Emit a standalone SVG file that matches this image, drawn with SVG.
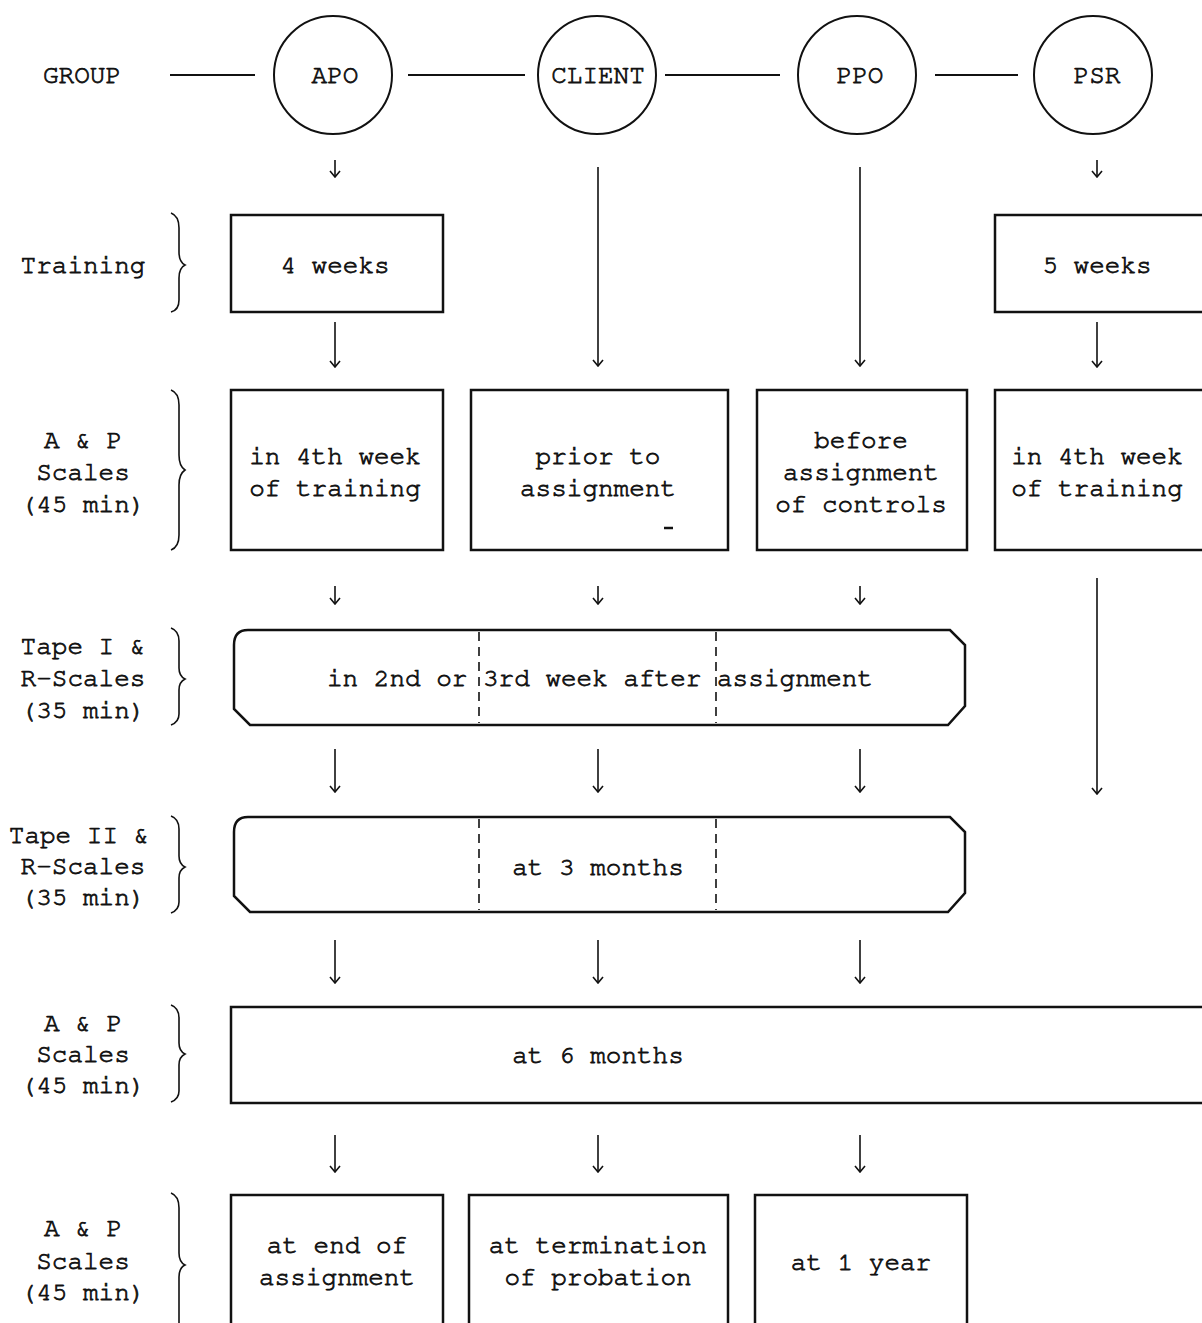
<svg xmlns="http://www.w3.org/2000/svg" width="1202" height="1323" viewBox="0 0 1202 1323">
<style>
text{font-family:"Nimbus Mono PS","FreeMono","Courier","Liberation Mono","Courier New",monospace;font-size:26px;fill:#111;stroke:#111;stroke-width:0.8;text-anchor:middle;dominant-baseline:central}
.box{fill:none;stroke:#111;stroke-width:2.5}
.circ{fill:none;stroke:#111;stroke-width:2}
.ln{fill:none;stroke:#111;stroke-width:2.2}
.arr{fill:none;stroke:#111;stroke-width:1.6;marker-end:url(#ah)}
.br{fill:none;stroke:#111;stroke-width:1.6}
.dash{fill:none;stroke:#111;stroke-width:1.6;stroke-dasharray:9 6}
</style>
<defs>
<marker id="ah" viewBox="0 0 12 12" refX="11" refY="6" markerWidth="12" markerHeight="12" markerUnits="userSpaceOnUse" orient="auto">
<path d="M5 1 L11 6 L5 11" fill="none" stroke="#111" stroke-width="1.6"/>
</marker>
</defs>
<rect width="1202" height="1323" fill="#fff"/>

<g id="labels">
<text x="82" y="75">GROUP</text>
<text x="83" y="265">Training</text>
<text x="83" y="440">A &amp; P</text>
<text x="83" y="472">Scales</text>
<text x="83" y="504">(45 min)</text>
<text x="83" y="646">Tape I &amp;</text>
<text x="83" y="678">R-Scales</text>
<text x="83" y="710">(35 min)</text>
<text x="79" y="835">Tape II &amp;</text>
<text x="83" y="866">R-Scales</text>
<text x="83" y="897">(35 min)</text>
<text x="83" y="1023">A &amp; P</text>
<text x="83" y="1054">Scales</text>
<text x="83" y="1085">(45 min)</text>
<text x="83" y="1228">A &amp; P</text>
<text x="83" y="1261">Scales</text>
<text x="83" y="1292">(45 min)</text>
</g>

<g id="braces">
<path class="br" d="M171 213 Q179 216 179 228 V252 Q179 262 185 265 Q179 268 179 278 V300 Q179 310 171 312"/>
<path class="br" d="M171 390 Q179 393 179 405 V455 Q179 466 185 470 Q179 474 179 485 V535 Q179 547 171 550"/>
<path class="br" d="M171 628 Q179 631 179 641 V668 Q179 676 185 679 Q179 682 179 690 V714 Q179 722 171 725"/>
<path class="br" d="M171 816 Q179 819 179 829 V856 Q179 864 185 867 Q179 870 179 878 V902 Q179 910 171 913"/>
<path class="br" d="M171 1005 Q179 1008 179 1018 V1043 Q179 1051 185 1054 Q179 1057 179 1065 V1091 Q179 1099 171 1102"/>
<path class="br" d="M171 1193 Q179 1196 179 1208 V1253 Q179 1262 185 1265 Q179 1268 179 1277 V1323"/>
</g>

<g id="connectors">
<line class="ln" x1="170" y1="75" x2="255" y2="75"/>
<line class="ln" x1="408" y1="75" x2="525" y2="75"/>
<line class="ln" x1="665" y1="75" x2="780" y2="75"/>
<line class="ln" x1="935" y1="75" x2="1018" y2="75"/>
<line class="arr" x1="335" y1="160" x2="335" y2="177"/>
<line class="arr" x1="1097" y1="160" x2="1097" y2="177"/>
<line class="arr" x1="598" y1="167" x2="598" y2="366"/>
<line class="arr" x1="860" y1="167" x2="860" y2="366"/>
<line class="arr" x1="335" y1="322" x2="335" y2="367"/>
<line class="arr" x1="1097" y1="322" x2="1097" y2="367"/>
<line class="arr" x1="335" y1="586" x2="335" y2="604"/>
<line class="arr" x1="598" y1="586" x2="598" y2="604"/>
<line class="arr" x1="860" y1="586" x2="860" y2="604"/>
<line class="arr" x1="1097" y1="578" x2="1097" y2="794"/>
<line class="arr" x1="335" y1="749" x2="335" y2="792"/>
<line class="arr" x1="598" y1="749" x2="598" y2="792"/>
<line class="arr" x1="860" y1="749" x2="860" y2="792"/>
<line class="arr" x1="335" y1="940" x2="335" y2="983"/>
<line class="arr" x1="598" y1="940" x2="598" y2="983"/>
<line class="arr" x1="860" y1="940" x2="860" y2="983"/>
<line class="arr" x1="335" y1="1135" x2="335" y2="1172"/>
<line class="arr" x1="598" y1="1135" x2="598" y2="1172"/>
<line class="arr" x1="860" y1="1135" x2="860" y2="1172"/>
</g>

<g id="apo"><circle class="circ" cx="333" cy="75" r="59"/><text x="335" y="75">APO</text></g>
<g id="client"><circle class="circ" cx="597" cy="75" r="59"/><text x="598" y="75">CLIENT</text></g>
<g id="ppo"><circle class="circ" cx="857" cy="75" r="59"/><text x="860" y="75">PPO</text></g>
<g id="psr"><circle class="circ" cx="1093" cy="75" r="59"/><text x="1097" y="75">PSR</text></g>

<g id="apo-training"><rect class="box" x="231" y="215" width="212" height="97"/><text x="335" y="265">4 weeks</text></g>
<g id="psr-training"><rect class="box" x="995" y="215" width="212" height="97"/><text x="1097" y="265">5 weeks</text></g>

<g id="apo-ap1"><rect class="box" x="231" y="390" width="212" height="160"/><text x="335" y="456">in 4th week</text><text x="335" y="488">of training</text></g>
<g id="client-ap1"><rect class="box" x="471" y="390" width="257" height="160"/><text x="598" y="456">prior to</text><text x="598" y="488">assignment</text><line x1="664" y1="528" x2="673" y2="528" stroke="#111" stroke-width="2.5"/></g>
<g id="ppo-ap1"><rect class="box" x="757" y="390" width="210" height="160"/><text x="861" y="440">before</text><text x="861" y="472">assignment</text><text x="861" y="504">of controls</text></g>
<g id="psr-ap1"><rect class="box" x="995" y="390" width="212" height="160"/><text x="1097" y="456">in 4th week</text><text x="1097" y="488">of training</text></g>

<g id="tape1">
<path class="box" d="M248 630 H950 L965 645 V706 L948 725 H250 L234 709 V645 Q234 630 248 630 Z"/>
<line class="dash" x1="479" y1="632" x2="479" y2="723"/>
<line class="dash" x1="716" y1="632" x2="716" y2="723"/>
<text x="600" y="678">in 2nd or 3rd week after assignment</text>
</g>

<g id="tape2">
<path class="box" d="M248 817 H950 L965 832 V893 L948 912 H250 L234 896 V832 Q234 817 248 817 Z"/>
<line class="dash" x1="479" y1="819" x2="479" y2="910"/>
<line class="dash" x1="716" y1="819" x2="716" y2="910"/>
<text x="598" y="867">at 3 months</text>
</g>

<g id="ap6"><rect class="box" x="231" y="1007" width="980" height="96"/><text x="598" y="1055">at 6 months</text></g>

<g id="apo-final"><rect class="box" x="231" y="1195" width="212" height="135"/><text x="337" y="1245">at end of</text><text x="337" y="1277">assignment</text></g>
<g id="client-final"><rect class="box" x="469" y="1195" width="259" height="135"/><text x="598" y="1245">at termination</text><text x="598" y="1277">of probation</text></g>
<g id="ppo-final"><rect class="box" x="755" y="1195" width="212" height="135"/><text x="861" y="1262">at 1 year</text></g>
</svg>
